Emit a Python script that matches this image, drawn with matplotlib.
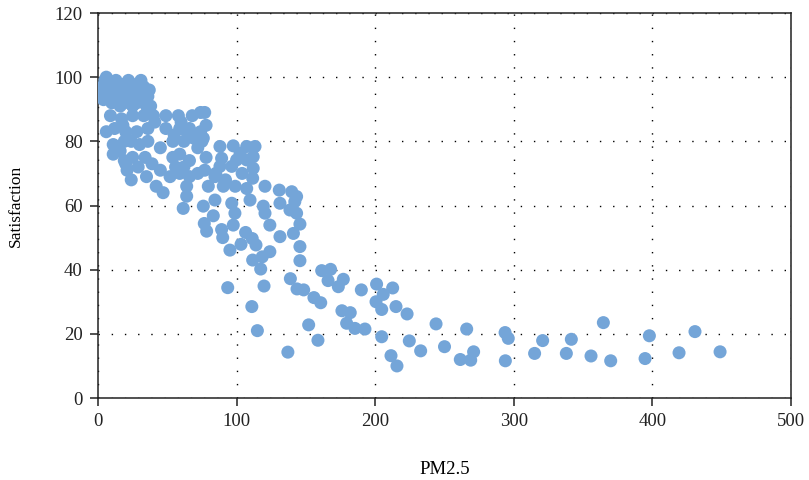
import matplotlib
matplotlib.use("Agg")
import matplotlib.pyplot as plt

# PM2.5 vs satisfaction
pm25 = [
    # dense top-left blob
    2, 3, 4, 5, 6, 7, 8, 9, 10, 11, 12, 13, 14, 15, 16, 17, 18, 19, 20, 21,
    22, 23, 24, 25, 26, 27, 28, 29, 30, 31, 32, 33, 34, 35, 36, 37, 38,
    9, 17, 25, 33, 40,
    6, 12, 18, 20, 24, 28, 30, 36, 36, 11, 19, 45, 49, 49, 41,
    11, 19, 20, 25, 21, 24, 34, 39, 35, 45, 42, 47, 29, 16,
    # x 50-90
    55, 59, 54, 58, 62, 64, 66, 68, 69, 71, 74, 74, 75, 76, 78, 77,
    54, 59, 66, 62, 56, 52, 59, 64, 66, 72, 77, 78, 72, 60,
    64, 61.5, 76, 79.6, 84.4, 90.4, 88, 84.4, 83.2, 76.7, 78.4, 89.2, 90,
    # x 85-125
    88, 97.6, 107.3, 113.3, 89.2, 96.5, 100, 102.5, 107.3, 112, 112, 111.6,
    107.3, 109.7, 96.5, 98.8, 97.6, 95.2, 103.2, 106.5, 111.3, 114, 111.6,
    118.5, 124, 117.4, 119.8, 93.6, 111, 115, 92, 85, 104, 99,
    # x 120-150
    120.5, 119.3, 120.5, 124, 131.3, 141, 130.8, 131.3, 139.8, 143.3, 138.5,
    143.3, 145.7, 145.7, 145.7, 142,
    # sparse tail
    137, 152, 158.7, 138.8, 143.6, 148.4, 155.8, 160.7, 161.4, 167.8, 166,
    177, 173.4, 190, 176, 182, 179.4, 185.4, 192.6, 201, 205.8, 212.6, 200.6,
    204.7, 215, 223, 204.7, 224.6, 232.8, 211.4, 215.7, 243.9, 250,
    266, 261.4, 268.9, 271, 293.7, 296, 293.9, 315, 320.8, 337.9, 341.5,
    355.7, 364.6, 369.9, 394.7, 397.8, 419.2, 430.7, 448.8,
]

satisfaction = [
    95, 97, 93, 99, 100, 96, 94, 97, 92, 98, 95, 99, 93, 96, 91, 97, 94, 92, 98, 95,
    99, 93, 96, 91, 97, 94, 92, 98, 95, 99, 93, 97, 96, 91, 94, 96, 91,
    88, 87, 88, 88, 88,
    83, 84, 85, 83, 80, 83, 79, 84, 80, 79, 80, 78, 84, 88, 86,
    76, 74, 73, 75, 71, 68, 75, 73, 69, 71, 66, 64, 72, 77,
    82, 84, 80, 88, 80, 83, 84, 88, 81, 82, 89, 83, 80, 81, 85, 89,
    75, 76, 74, 72, 72, 69, 70, 66, 69, 70, 71, 75, 78, 86,
    62.9, 59.1, 59.8, 66, 69, 66, 72.2, 61.7, 56.8, 54.4, 52, 52.5, 50,
    78.4, 78.6, 78.4, 78.4, 74.7, 72.2, 74.2, 76.3, 74.2, 75.2, 71.6, 68.5,
    65.3, 61.7, 60.7, 57.6, 53.9, 46.1, 47.9, 51.6, 49.7, 47.7, 43,
    44, 45.6, 40.2, 34.9, 34.4, 28.5, 21, 68, 70, 70, 66,
    66, 59.8, 57.6, 53.9, 50.3, 51.3, 64.8, 60.7, 64.3, 62.8, 58.6,
    57.6, 54.2, 47.2, 42.8, 61.2,
    14.3, 22.8, 18, 37.2, 34, 33.7, 31.3, 29.7, 39.7, 40.1, 36.6,
    37, 34.7, 33.7, 27.2, 26.6, 23.3, 21.7, 21.5, 35.5, 32.3, 34.3, 30,
    27.6, 28.5, 26.2, 19.1, 17.8, 14.7, 13.2, 10, 23.1, 16,
    21.5, 12, 11.8, 14.4, 20.4, 18.6, 11.6, 13.9, 17.9, 13.9, 18.3,
    13.1, 23.5, 11.6, 12.3, 19.4, 14.1, 20.7, 14.4,
]

x_ticks = [0, 100, 200, 300, 400, 500]
y_ticks = [0, 20, 40, 60, 80, 100, 120]

plt.rcParams['font.family'] = ['Liberation Serif', 'DejaVu Serif']

fig = plt.figure(figsize=(8.09, 4.8), dpi=100)
ax = fig.add_axes([0.1211, 0.1708, 0.8567, 0.8021])

ax.scatter(pm25, satisfaction, s=88, color='#74a5d8', edgecolors='none', zorder=3)

ax.set_xlim(0, 500)
ax.set_ylim(0, 120)
ax.set_xticks(x_ticks)
ax.set_yticks(y_ticks)
# sparse dotted grid like the original
ax.grid(True, color='black', linestyle=(0, (1, 8.5)), linewidth=1.0, zorder=0)

for sp in ax.spines.values():
    sp.set_linewidth(1.1)
    sp.set_color('#222222')
ax.tick_params(direction='out', length=6, width=1.1, labelsize=13.5,
               colors='#222222', pad=5)

ax.set_xlabel('PM2.5', fontsize=13.5, labelpad=22)
ax.set_ylabel('Satisfaction', fontsize=12.5, labelpad=22)

fig.savefig('out.png', dpi=100)
